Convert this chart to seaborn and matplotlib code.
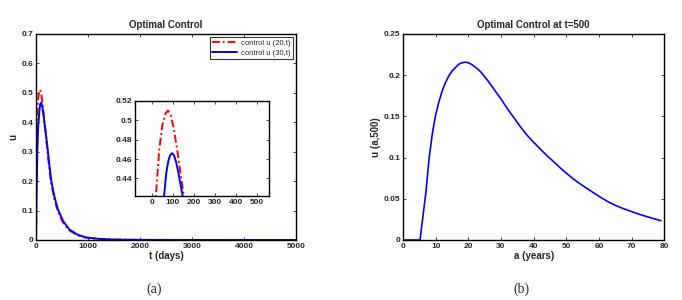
import matplotlib
matplotlib.use("Agg")
import matplotlib.pyplot as plt
from matplotlib.ticker import FormatStrFormatter
import pandas as pd
import seaborn as sns

# control u(20,t) and u(30,t)
t_red = [0, 8, 19, 35, 50, 65, 77, 90, 105, 120, 135, 153, 185, 215, 250, 285, 345,
         415, 515, 635, 795, 955, 1200, 1500, 2000, 3000, 4000, 5000]
u_red = [0, 0.25, 0.422, 0.47, 0.495, 0.507, 0.51, 0.505, 0.49, 0.47, 0.447, 0.42,
         0.365, 0.31, 0.252, 0.2, 0.145, 0.1, 0.06, 0.033, 0.016, 0.008, 0.0035,
         0.0013, 0.0004, 0.0001, 0, 0]
t_blue = [0, 10, 25, 40, 58, 68, 78, 87, 96, 105, 115, 125, 135, 148, 160, 190, 220,
          255, 290, 350, 420, 520, 640, 800, 960, 1200, 1500, 2000, 3000, 4000, 5000]
u_blue = [0, 0.15, 0.3, 0.38, 0.422, 0.445, 0.458, 0.464, 0.466, 0.464, 0.457,
          0.447, 0.435, 0.42, 0.40, 0.36, 0.315, 0.258, 0.205, 0.15, 0.105, 0.065,
          0.036, 0.018, 0.009, 0.004, 0.0015, 0.0004, 0.0001, 0, 0]

# control at t=500 over age, panel (b)
age = [0, 5.2, 6, 7, 8, 9, 10, 11, 12, 13, 14, 15, 16, 17, 18, 19, 20, 21, 22, 23,
       24, 26, 28, 30, 32, 34, 36, 38, 40, 42, 44, 46, 48, 50, 52.5, 55, 57.5, 60,
       62.5, 65, 67.5, 70, 72.5, 75, 77, 79]
u_age = [0, 0, 0.026, 0.058, 0.1, 0.13, 0.152, 0.168, 0.181, 0.191, 0.199, 0.205,
         0.209, 0.213, 0.215, 0.2157, 0.215, 0.213, 0.210, 0.207, 0.203, 0.193,
         0.182, 0.171, 0.159, 0.148, 0.137, 0.127, 0.1185, 0.1105, 0.1025, 0.0955,
         0.088, 0.081, 0.073, 0.066, 0.0595, 0.053, 0.047, 0.042, 0.038, 0.0345,
         0.031, 0.028, 0.0256, 0.0234]

red_lbl = "control u (20,t)"
blue_lbl = "control u (30,t)"

df_a = pd.concat([
    pd.DataFrame({"t": t_red, "u": u_red, "series": red_lbl}),
    pd.DataFrame({"t": t_blue, "u": u_blue, "series": blue_lbl}),
])
df_b = pd.DataFrame({"a": age, "u": u_age})

sns.set_style("ticks")
plt.rcParams["font.family"] = ["Liberation Sans", "DejaVu Sans"]
plt.rcParams["xtick.direction"] = "in"
plt.rcParams["ytick.direction"] = "in"
plt.rcParams["xtick.major.size"] = 2.5
plt.rcParams["ytick.major.size"] = 2.5
plt.rcParams["axes.linewidth"] = 1.0

pal = {red_lbl: "#ff0000", blue_lbl: "#0000ff"}
dashes = {red_lbl: (4, 1.5, 1, 1.5), blue_lbl: ""}

fig = plt.figure(figsize=(6.82, 3.0), dpi=100)
ax1 = fig.add_axes([0.0528, 0.2, 0.381, 0.687])
ax2 = fig.add_axes([0.591, 0.2, 0.383, 0.687])
axin = fig.add_axes([0.198, 0.347, 0.196, 0.317])


def box_ticks(ax, fs=6):
    ax.tick_params(top=True, right=True, labelsize=fs, width=0.6, pad=2)
    for lab in ax.get_xticklabels() + ax.get_yticklabels():
        lab.set_fontweight("bold")
    for s in ax.spines.values():
        s.set_visible(True)
        s.set_color("black")


# panel (a)
sns.lineplot(data=df_a, x="t", y="u", hue="series", style="series", palette=pal,
             dashes=dashes, ax=ax1, linewidth=1.4, sort=False, estimator=None)
ax1.set_xlim(0, 5000)
ax1.set_ylim(0, 0.7)
ax1.set_xticks(range(0, 5001, 1000))
ax1.set_yticks([0, 0.1, 0.2, 0.3, 0.4, 0.5, 0.6, 0.7])
ax1.yaxis.set_major_formatter(FormatStrFormatter("%g"))
ax1.set_xlabel("t (days)", fontsize=7, fontweight="bold", labelpad=1)
ax1.set_ylabel("u", fontsize=7, fontweight="bold", labelpad=2)
ax1.set_title("Optimal Control", fontsize=7, fontweight="bold", pad=4)
box_ticks(ax1)
leg = ax1.legend(loc="upper right", fontsize=5.5, frameon=True, fancybox=False,
                 handlelength=3.2, borderpad=0.35, labelspacing=0.3,
                 handletextpad=0.5, borderaxespad=0.4)
leg.get_frame().set_edgecolor("black")
leg.get_frame().set_linewidth(0.8)

# inset zoom on the peak
sns.lineplot(data=df_a, x="t", y="u", hue="series", style="series", palette=pal,
             dashes=dashes, ax=axin, linewidth=1.4, sort=False, estimator=None,
             legend=False)
axin.set_xlim(-80, 555)
axin.set_ylim(0.422, 0.52)
axin.set_xticks(range(0, 501, 100))
axin.set_yticks([0.44, 0.46, 0.48, 0.5, 0.52])
axin.yaxis.set_major_formatter(FormatStrFormatter("%g"))
axin.set_xlabel("")
axin.set_ylabel("")
box_ticks(axin)

# panel (b)
sns.lineplot(data=df_b, x="a", y="u", color="#0000ff", ax=ax2, linewidth=1.2,
             sort=False, estimator=None)
ax2.set_xlim(0, 80)
ax2.set_ylim(0, 0.25)
ax2.set_xticks(range(0, 81, 10))
ax2.set_yticks([0, 0.05, 0.1, 0.15, 0.2, 0.25])
ax2.yaxis.set_major_formatter(FormatStrFormatter("%g"))
ax2.set_xlabel("a (years)", fontsize=7, fontweight="bold", labelpad=1)
ax2.set_ylabel("u (a,500)", fontsize=7, fontweight="bold", labelpad=2)
ax2.set_title("Optimal Control at t=500", fontsize=7, fontweight="bold", pad=4)
box_ticks(ax2)

fig.text(0.226, 0.035, "(a)", ha="center", va="center", fontsize=10,
         family=["Liberation Serif", "DejaVu Serif"])
fig.text(0.765, 0.035, "(b)", ha="center", va="center", fontsize=10,
         family=["Liberation Serif", "DejaVu Serif"])

fig.savefig("out.png", dpi=100)
